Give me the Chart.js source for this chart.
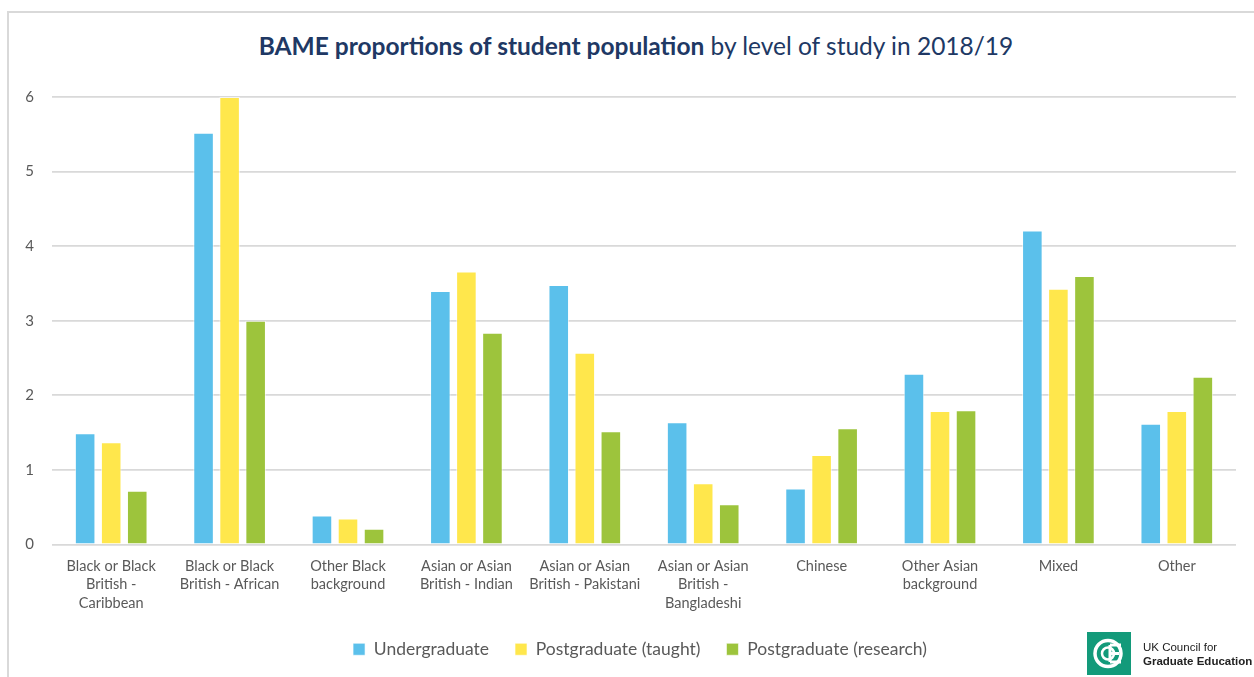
<!DOCTYPE html>
<html>
<head>
<meta charset="utf-8">
<script src="https://cdn.jsdelivr.net/npm/chart.js@4.4.1/dist/chart.umd.min.js"></script>
<style>
  html,body{margin:0;padding:0;background:#fff;}
  body{width:1254px;height:677px;overflow:hidden;position:relative;font-family:Lato,"Open Sans",sans-serif;}
  #frame{position:absolute;left:7px;top:11px;width:1260px;height:700px;border-left:2px solid #d9d9d9;border-top:2px solid #d9d9d9;box-sizing:border-box;}
  #wrap{position:absolute;left:0;top:0;width:1254px;height:677px;}
  #title{position:absolute;left:0;width:1272px;top:31px;text-align:center;font-size:24.5px;color:#203864;white-space:nowrap;}
  #title b{font-weight:700;}
  #logo{position:absolute;left:1087px;top:632px;width:44px;height:43px;background:#139a7a;}
  #logotext{position:absolute;left:1143px;top:640px;font-size:11.5px;line-height:14px;color:#222;white-space:nowrap;font-family:"Liberation Sans",Arial,sans-serif;}
</style>
</head>
<body>
<div id="frame"></div>
<div id="title"><b>BAME proportions of student population</b> by level of study in 2018/19</div>
<div id="wrap"><canvas id="c" width="1254" height="677"></canvas></div>
<div id="logo"><svg width="44" height="43" viewBox="0 0 44 43">
  <circle cx="21" cy="21.5" r="13" fill="none" stroke="#fff" stroke-width="3.5"/>
  <path d="M23 13 H34 M23 21.5 H32 M23 30 H34 M23 13 V30" stroke="#fff" stroke-width="3" fill="none"/>
  <circle cx="21" cy="21.5" r="6" fill="none" stroke="#fff" stroke-width="2.5"/>
</svg></div>
<div id="logotext">UK Council for<br><b>Graduate Education</b></div>
<script>
const categories = [
  ["Black or Black","British -","Caribbean"],
  ["Black or Black","British - African"],
  ["Other Black","background"],
  ["Asian or Asian","British - Indian"],
  ["Asian or Asian","British - Pakistani"],
  ["Asian or Asian","British -","Bangladeshi"],
  "Chinese",
  ["Other Asian","background"],
  "Mixed",
  "Other"
];
const seriesNames = ["Undergraduate","Postgraduate (taught)","Postgraduate (research)"];
const undergraduate = [1.49, 5.52, 0.39, 3.40, 3.48, 1.64, 0.75, 2.29, 4.21, 1.62];
const pgTaught      = [1.37, 6.00, 0.35, 3.66, 2.57, 0.82, 1.20, 1.79, 3.43, 1.79];
const pgResearch    = [0.72, 3.00, 0.21, 2.84, 1.52, 0.54, 1.56, 1.80, 3.60, 2.25];
const yTicks = [0,1,2,3,4,5,6];
const colors = ["#5bc0eb","#ffe74c","#9dc43c"];

const datasets = [undergraduate, pgTaught, pgResearch].map((d,i)=>({
  label: seriesNames[i],
  data: d,
  backgroundColor: colors[i],
  borderColor: "rgba(255,255,255,0.6)",
  borderWidth: 1,
  categoryPercentage: 0.66,
  barPercentage: 0.79
}));

const shiftLegend = {
  id: "shiftLegend",
  afterLayout(chart) {
    const lg = chart.legend;
    if (lg) { lg.left += 22; lg.right += 22; }
  }
};

new Chart(document.getElementById("c"), {
  type: "bar",
  data: { labels: categories, datasets },
  plugins: [shiftLegend],
  options: {
    responsive: false,
    animation: false,
    layout: { padding: { left: 0, right: 18, top: 97, bottom: 9 } },
    plugins: {
      title: { display: false },
      tooltip: { enabled: false },
      legend: {
        position: "bottom",
        labels: {
          boxWidth: 12, boxHeight: 12, padding: 26,
          color: "#595959",
          font: { family: "Lato", size: 17.5 }
        }
      }
    },
    scales: {
      x: {
        grid: { display: false, drawTicks: false },
        border: { display: false },
        ticks: { color: "#595959", font: { family: "Lato", size: 14.5, lineHeight: 1.3 }, padding: 12, maxRotation: 0, autoSkip: false },
        afterFit: s => { s.height = 70; }
      },
      y: {
        min: 0, max: 6,
        afterBuildTicks: s => { s.ticks = yTicks.map(v=>({value:v})); },
        grid: { color: "#d9d9d9", lineWidth: 1.8, drawTicks: false },
        border: { display: false },
        ticks: { color: "#595959", font: { family: "Lato", size: 15 }, padding: 18 },
        afterFit: s => { s.width = 52; }
      }
    }
  }
});
</script>
</body>
</html>
